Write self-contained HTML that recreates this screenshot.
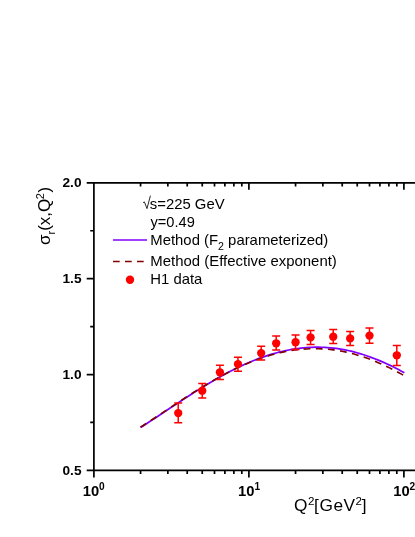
<!DOCTYPE html>
<html><head><meta charset="utf-8">
<style>
html,body{margin:0;padding:0;background:#fff;}
body{width:415px;height:537px;overflow:hidden;}
svg{display:block;will-change:transform;}
text{font-family:"Liberation Sans",sans-serif;fill:#000;}
.b{font-weight:bold;}
</style></head><body>
<svg width="415" height="537" viewBox="0 0 415 537">
<rect width="415" height="537" fill="#fff"/>
<!-- curves -->
<path d="M140.50,427.52 L143.47,425.64 L146.43,423.73 L149.40,421.81 L152.36,419.88 L155.33,417.93 L158.29,415.98 L161.26,414.01 L164.22,412.04 L167.19,410.07 L170.15,408.10 L173.12,406.14 L176.08,404.17 L179.05,402.22 L182.01,400.27 L184.98,398.33 L187.94,396.41 L190.91,394.50 L193.87,392.61 L196.84,390.73 L199.80,388.88 L202.77,387.04 L205.73,385.23 L208.70,383.44 L211.66,381.67 L214.63,379.94 L217.59,378.24 L220.56,376.57 L223.52,374.93 L226.49,373.33 L229.46,371.77 L232.42,370.24 L235.39,368.76 L238.35,367.31 L241.32,365.91 L244.28,364.55 L247.25,363.24 L250.21,361.97 L253.18,360.74 L256.14,359.57 L259.11,358.44 L262.07,357.36 L265.04,356.33 L268.00,355.35 L270.97,354.42 L273.93,353.55 L276.90,352.73 L279.86,351.96 L282.83,351.25 L285.79,350.59 L288.76,349.99 L291.72,349.45 L294.69,348.97 L297.65,348.54 L300.62,348.17 L303.58,347.86 L306.55,347.61 L309.51,347.41 L312.48,347.28 L315.44,347.21 L318.41,347.20 L321.38,347.25 L324.34,347.36 L327.31,347.53 L330.27,347.76 L333.24,348.05 L336.20,348.40 L339.17,348.81 L342.13,349.31 L345.10,349.88 L348.06,350.50 L351.03,351.19 L353.99,351.93 L356.96,352.73 L359.92,353.59 L362.89,354.50 L365.85,355.47 L368.82,356.49 L371.78,357.57 L374.75,358.70 L377.71,359.88 L380.68,361.12 L383.64,362.40 L386.61,363.74 L389.57,365.13 L392.54,366.56 L395.50,368.05 L398.47,369.58 L401.43,371.16 L404.40,372.78" fill="none" stroke="#7f00ff" stroke-width="1.75"/>
<path d="M140.50,427.07 L143.47,425.20 L146.43,423.30 L149.40,421.39 L152.36,419.46 L155.33,417.52 L158.29,415.57 L161.26,413.62 L164.22,411.65 L167.19,409.69 L170.15,407.73 L173.12,405.77 L176.08,403.81 L179.05,401.86 L182.01,399.92 L184.98,397.99 L187.94,396.08 L190.91,394.18 L193.87,392.29 L196.84,390.43 L199.80,388.58 L202.77,386.77 L205.73,384.98 L208.70,383.22 L211.66,381.49 L214.63,379.79 L217.59,378.11 L220.56,376.47 L223.52,374.87 L226.49,373.30 L229.46,371.76 L232.42,370.27 L235.39,368.81 L238.35,367.40 L241.32,366.03 L244.28,364.73 L247.25,363.47 L250.21,362.25 L253.18,361.08 L256.14,359.96 L259.11,358.89 L262.07,357.86 L265.04,356.88 L268.00,355.95 L270.97,355.08 L273.93,354.26 L276.90,353.49 L279.86,352.78 L282.83,352.12 L285.79,351.52 L288.76,350.97 L291.72,350.49 L294.69,350.06 L297.65,349.70 L300.62,349.39 L303.58,349.14 L306.55,348.95 L309.51,348.82 L312.48,348.75 L315.44,348.73 L318.41,348.77 L321.38,348.87 L324.34,349.03 L327.31,349.24 L330.27,349.52 L333.24,349.85 L336.20,350.25 L339.17,350.71 L342.13,351.25 L345.10,351.86 L348.06,352.54 L351.03,353.27 L353.99,354.06 L356.96,354.90 L359.92,355.81 L362.89,356.77 L365.85,357.78 L368.82,358.86 L371.78,359.99 L374.75,361.17 L377.71,362.41 L380.68,363.70 L383.64,365.03 L386.61,366.42 L389.57,367.86 L392.54,369.35 L395.50,370.89 L398.47,372.47 L401.43,374.10 L404.40,375.78" fill="none" stroke="#800000" stroke-width="1.6" stroke-dasharray="6.82 5.37"/>
<!-- data -->
<path d="M178.23,403.10V422.70M174.23,403.10h8M174.23,422.70h8" stroke="#ff0000" stroke-width="1.5" fill="none"/><circle cx="178.23" cy="413.10" r="4.15" fill="#ff0000"/>
<path d="M202.24,383.50V397.90M198.24,383.50h8M198.24,397.90h8" stroke="#ff0000" stroke-width="1.5" fill="none"/><circle cx="202.24" cy="390.70" r="4.15" fill="#ff0000"/>
<path d="M219.90,365.30V379.40M215.90,365.30h8M215.90,379.40h8" stroke="#ff0000" stroke-width="1.5" fill="none"/><circle cx="219.90" cy="372.30" r="4.15" fill="#ff0000"/>
<path d="M237.96,357.30V371.20M233.96,357.30h8M233.96,371.20h8" stroke="#ff0000" stroke-width="1.5" fill="none"/><circle cx="237.96" cy="364.10" r="4.15" fill="#ff0000"/>
<path d="M261.17,346.30V360.00M257.17,346.30h8M257.17,360.00h8" stroke="#ff0000" stroke-width="1.5" fill="none"/><circle cx="261.17" cy="353.10" r="4.15" fill="#ff0000"/>
<path d="M276.19,336.10V350.10M272.19,336.10h8M272.19,350.10h8" stroke="#ff0000" stroke-width="1.5" fill="none"/><circle cx="276.19" cy="343.30" r="4.15" fill="#ff0000"/>
<path d="M295.56,335.00V349.50M291.56,335.00h8M291.56,349.50h8" stroke="#ff0000" stroke-width="1.5" fill="none"/><circle cx="295.56" cy="342.20" r="4.15" fill="#ff0000"/>
<path d="M310.58,330.40V344.50M306.58,330.40h8M306.58,344.50h8" stroke="#ff0000" stroke-width="1.5" fill="none"/><circle cx="310.58" cy="337.40" r="4.15" fill="#ff0000"/>
<path d="M333.23,329.60V343.60M329.23,329.60h8M329.23,343.60h8" stroke="#ff0000" stroke-width="1.5" fill="none"/><circle cx="333.23" cy="336.70" r="4.15" fill="#ff0000"/>
<path d="M350.15,331.40V345.60M346.15,331.40h8M346.15,345.60h8" stroke="#ff0000" stroke-width="1.5" fill="none"/><circle cx="350.15" cy="338.40" r="4.15" fill="#ff0000"/>
<path d="M369.51,327.90V343.20M365.51,327.90h8M365.51,343.20h8" stroke="#ff0000" stroke-width="1.5" fill="none"/><circle cx="369.51" cy="335.60" r="4.15" fill="#ff0000"/>
<path d="M396.81,345.40V365.50M392.81,345.40h8M392.81,365.50h8" stroke="#ff0000" stroke-width="1.5" fill="none"/><circle cx="396.81" cy="355.30" r="4.15" fill="#ff0000"/>

<!-- axes -->
<path d="M93.9,182.8H416M93.9,470.4H416M93.9,181.95000000000002V471.25M86.70,470.40H93.90M86.70,374.53H93.90M86.70,278.67H93.90M86.70,182.81H93.90M90.20,422.47H93.90M90.20,326.60H93.90M90.20,230.74H93.90M93.90,470.40v7M140.56,470.40v3.6M140.56,182.80v3.6M167.85,470.40v3.6M167.85,182.80v3.6M187.22,470.40v3.6M187.22,182.80v3.6M202.24,470.40v3.6M202.24,182.80v3.6M214.51,470.40v3.6M214.51,182.80v3.6M224.89,470.40v3.6M224.89,182.80v3.6M233.88,470.40v3.6M233.88,182.80v3.6M241.81,470.40v3.6M241.81,182.80v3.6M248.90,470.40v7M248.90,182.80v7M295.56,470.40v3.6M295.56,182.80v3.6M322.85,470.40v3.6M322.85,182.80v3.6M342.22,470.40v3.6M342.22,182.80v3.6M357.24,470.40v3.6M357.24,182.80v3.6M369.51,470.40v3.6M369.51,182.80v3.6M379.89,470.40v3.6M379.89,182.80v3.6M388.88,470.40v3.6M388.88,182.80v3.6M396.81,470.40v3.6M396.81,182.80v3.6M403.90,470.40v7M403.90,182.80v7" fill="none" stroke="#000" stroke-width="1.7"/>
<!-- y tick labels -->
<g class="b" font-size="13.7" text-anchor="end">
<text x="81.5" y="186.9">2.0</text>
<text x="81.5" y="282.8">1.5</text>
<text x="81.5" y="378.7">1.0</text>
<text x="81.5" y="474.5">0.5</text>
</g>
<!-- x tick labels -->
<g class="b" font-size="15">
<text transform="translate(82.7,495.5) scale(0.985,1.02)">10<tspan font-size="10.3" dy="-5.3">0</tspan></text>
<text transform="translate(238.1,495.5) scale(0.985,1.02)">10<tspan font-size="10.3" dy="-5.3">1</tspan></text>
<text transform="translate(393.2,495.5) scale(0.985,1.02)">10<tspan font-size="10.3" dy="-5.3">2</tspan></text>
</g>
<!-- axis titles -->
<g font-size="17.3">
<text x="294.0" y="511.0">Q</text>
<text x="307.9" y="505.0" font-size="11.6">2</text>
<text x="314.1" y="511.0" letter-spacing="0.55">[GeV</text>
<text x="355.6" y="505.0" font-size="11.6">2</text>
<text x="361.7" y="511.0">]</text>
</g>
<text transform="translate(50.3,245.0) rotate(-90)" font-size="17">σ<tspan font-size="11" dy="4.5">r</tspan><tspan dy="-4.5">(x,Q</tspan><tspan font-size="11" dy="-6.8" dx="-0.6">2</tspan><tspan dy="6.8" dx="0.6">)</tspan></text>
<!-- legend -->
<path d="M143.1,202.7L144.4,201.9L147.0,208.6L150.4,195.7" fill="none" stroke="#111" stroke-width="0.9"/>
<g font-size="14">
<text transform="translate(149.8,208.5) scale(1.063,1)">s=225 GeV</text>
<text transform="translate(150.5,226.6) scale(1.045,1)">y=0.49</text>
<text transform="translate(150.3,245.2) scale(1.063,1)">Method (F<tspan font-size="10" dy="4.5">2</tspan><tspan dy="-4.5"> parameterized)</tspan></text>
<text transform="translate(150.3,266.0) scale(1.068,1)">Method (Effective exponent)</text>
<text transform="translate(150.3,284.0) scale(1.063,1)">H1 data</text>
</g>
<path d="M113,240.0H147" stroke="#7f00ff" stroke-width="1.6" fill="none"/>
<path d="M113,261.5H147" stroke="#800000" stroke-width="1.5" stroke-dasharray="6.7 5.3" fill="none"/>
<circle cx="130" cy="279.8" r="4.2" fill="#ff0000"/>
</svg>
</body></html>
